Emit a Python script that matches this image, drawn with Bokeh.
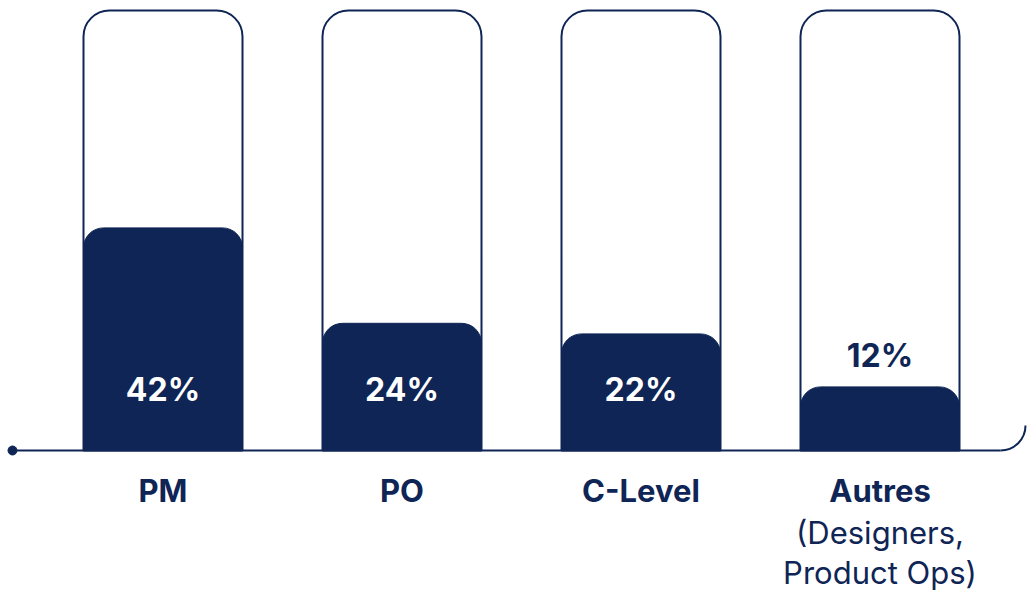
from bokeh.plotting import figure
from bokeh.models import Range1d, ColumnDataSource
from bokeh.core.properties import value
from bokeh.embed import file_html
from bokeh.resources import INLINE

categories = ["PM", "PO", "C-Level", "Autres"]
sublabels = [[], [], [], ["(Designers,", "Product Ops)"]]
values = [42, 24, 22, 12]
value_labels = ["42%", "24%", "22%", "12%"]

NAVY = "#0F2555"
FONT = "Inter"

W, H = 1030, 593
px_per_unit = 5.3
baseline_px = 450
step_px = 239.0
first_center_px = 162.5
bar_w = 159 / step_px
frame_top = 440 / px_per_unit

x0 = -first_center_px / step_px
x1 = (W - first_center_px) / step_px
y1 = baseline_px / px_per_unit
y0 = -(H - baseline_px) / px_per_unit

p = figure(width=W, height=H, x_range=Range1d(x0, x1), y_range=Range1d(y0, y1),
           output_backend="svg", toolbar_location=None, min_border=0,
           outline_line_color=None)
p.axis.visible = False
p.grid.visible = False
p.background_fill_color = "white"
p.border_fill_color = "white"

xs = list(range(len(categories)))
src = ColumnDataSource(dict(x=xs, left=[x - bar_w / 2 for x in xs], right=[x + bar_w / 2 for x in xs],
                            top=values, bottom=[0] * len(xs), frame=[frame_top] * len(xs),
                            label=value_labels, cat=categories))

# outline frames
p.quad(left="left", right="right", bottom="bottom", top="frame", source=src,
       fill_color="white", line_color=NAVY, line_width=2, border_radius=(26, 26, 0, 0))

# baseline
def px_to_x(px):
    return (px - first_center_px) / step_px

p.line([px_to_x(10), px_to_x(1000)], [0, 0], line_color=NAVY, line_width=2)
p.arc(x=[px_to_x(1000)], y=[25 / px_per_unit], radius=25, radius_units="screen",
      start_angle=-1.5708, end_angle=0, line_color=NAVY, line_width=2)
p.scatter([px_to_x(12)], [0], size=9, color=NAVY)

# filled bars
p.quad(left="left", right="right", bottom="bottom", top="top", source=src,
       fill_color=NAVY, line_color=NAVY, line_width=1, border_radius=(20, 20, 0, 0))

# value labels
in_x, in_y, in_t, out_x, out_y, out_t = [], [], [], [], [], []
for x, v, t in zip(xs, values, value_labels):
    if v >= 15:
        in_x.append(x); in_y.append(0); in_t.append(t)
    else:
        out_x.append(x); out_y.append(v); out_t.append(t)
p.text(in_x, in_y, text=in_t, y_offset=-61, text_align="center", text_baseline="middle",
       text_font=value(FONT), text_font_style="bold", text_font_size="32px", text_color="white")
p.text(out_x, out_y, text=out_t, y_offset=-31, text_align="center", text_baseline="middle",
       text_font=value(FONT), text_font_style="bold", text_font_size="32px", text_color=NAVY)

# category labels
p.text(xs, [0] * len(xs), text=categories, y_offset=40, text_align="center", text_baseline="middle",
       text_font=value(FONT), text_font_style="bold", text_font_size="31px", text_color=NAVY)
for x, subs in zip(xs, sublabels):
    for j, s in enumerate(subs):
        p.text([x], [0], text=[s], y_offset=82 + 40 * j, text_align="center", text_baseline="middle",
               text_font=value(FONT), text_font_size="31px", text_color=NAVY)

open("out.html", "w").write(file_html(p, INLINE))
